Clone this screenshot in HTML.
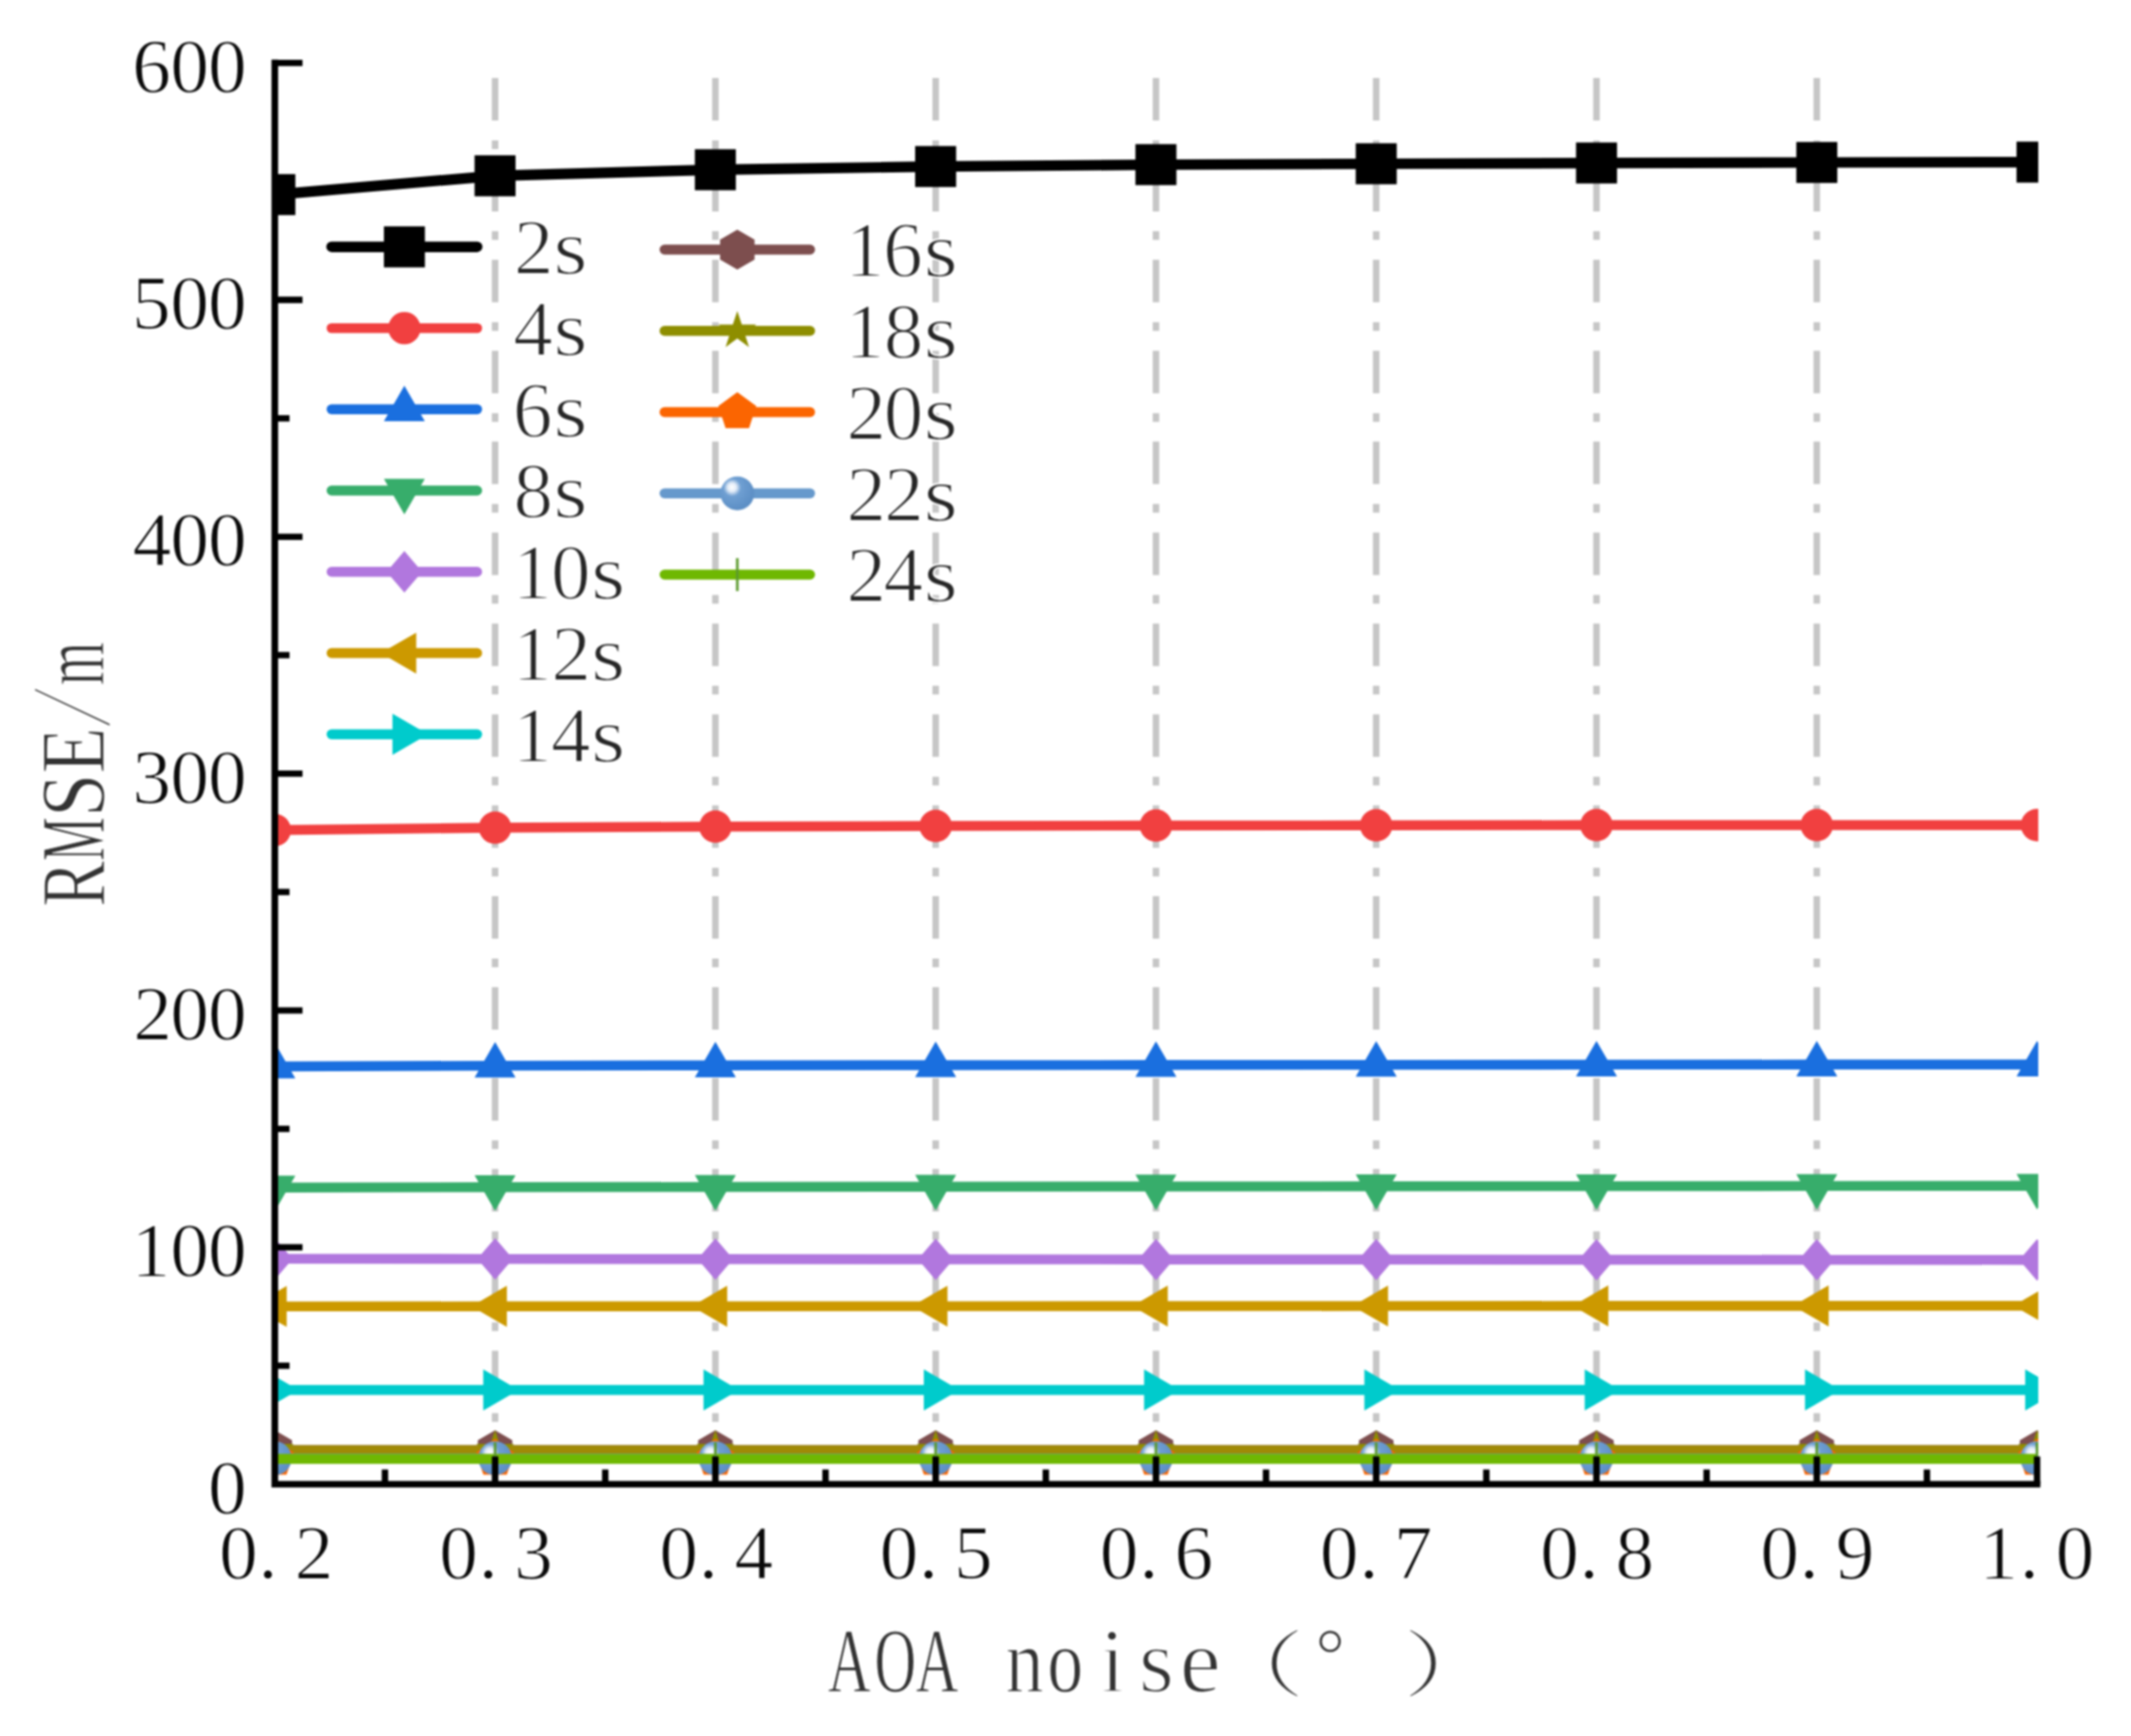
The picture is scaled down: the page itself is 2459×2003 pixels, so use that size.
<!DOCTYPE html>
<html lang="en"><head><meta charset="utf-8"><title>RMSE vs AOA noise</title>
<style>
html,body{margin:0;padding:0;background:#fff;}
body{width:2459px;height:2003px;overflow:hidden;}
svg{display:block;filter:blur(1.3px);}
text{font-family:"Liberation Serif","Noto Serif CJK SC",serif;}
.tk{font-size:89.5px;fill:#0a0a0a;text-anchor:middle;stroke:#fff;stroke-width:1.3px;}
.lg{font-size:91.5px;fill:#262626;text-anchor:middle;stroke:#fff;stroke-width:1.8px;}
.ti{font-size:105.5px;fill:#333;text-anchor:middle;stroke:#fff;stroke-width:1.4px;}
</style></head><body>
<svg width="2459" height="2003" viewBox="0 0 2459 2003">
<defs>
<radialGradient id="sph" cx="0.36" cy="0.34" r="0.62" fx="0.34" fy="0.32">
<stop offset="0" stop-color="#ffffff"/><stop offset="0.2" stop-color="#e4edf8"/><stop offset="0.42" stop-color="#6f9fd2"/><stop offset="1" stop-color="#5e90c6"/>
</radialGradient>
<clipPath id="clip"><rect x="315" y="40" width="2037" height="1700"/></clipPath>
</defs>
<rect width="2459" height="2003" fill="#ffffff"/>

<g stroke="#C6C6C6" stroke-width="7.5" fill="none" stroke-dasharray="49 22.95 10 22.95">
<line x1="571.3" y1="1712.5" x2="571.3" y2="72.7"/>
<line x1="825.5" y1="1712.5" x2="825.5" y2="72.7"/>
<line x1="1079.7" y1="1712.5" x2="1079.7" y2="72.7"/>
<line x1="1333.9" y1="1712.5" x2="1333.9" y2="72.7"/>
<line x1="1588.0" y1="1712.5" x2="1588.0" y2="72.7"/>
<line x1="1842.2" y1="1712.5" x2="1842.2" y2="72.7"/>
<line x1="2096.4" y1="1712.5" x2="2096.4" y2="72.7"/>
</g>
<g clip-path="url(#clip)">
<polyline points="317.1,224.6 571.3,202.8 825.5,195.8 1079.7,192.2 1333.9,190.0 1588.0,189.0 1842.2,188.1 2096.4,187.5 2350.6,187.1" fill="none" stroke="#000000" stroke-width="12.2" stroke-linejoin="round"/>
<rect x="293.5" y="200.9" width="47.3" height="47.3" fill="#000000"/>
<rect x="547.6" y="179.2" width="47.3" height="47.3" fill="#000000"/>
<rect x="801.8" y="172.2" width="47.3" height="47.3" fill="#000000"/>
<rect x="1056.0" y="168.5" width="47.3" height="47.3" fill="#000000"/>
<rect x="1310.2" y="166.3" width="47.3" height="47.3" fill="#000000"/>
<rect x="1564.4" y="165.3" width="47.3" height="47.3" fill="#000000"/>
<rect x="1818.6" y="164.4" width="47.3" height="47.3" fill="#000000"/>
<rect x="2072.8" y="163.8" width="47.3" height="47.3" fill="#000000"/>
<rect x="2326.9" y="163.4" width="47.3" height="47.3" fill="#000000"/>
<polyline points="317.1,957.7 571.3,955.0 825.5,953.8 1079.7,953.0 1333.9,952.5 1588.0,952.3 1842.2,952.0 2096.4,952.0 2350.6,952.0" fill="none" stroke="#F14040" stroke-width="11.4" stroke-linejoin="round"/>
<circle cx="317.1" cy="957.7" r="18.7" fill="#F14040"/>
<circle cx="571.3" cy="955.0" r="18.7" fill="#F14040"/>
<circle cx="825.5" cy="953.8" r="18.7" fill="#F14040"/>
<circle cx="1079.7" cy="953.0" r="18.7" fill="#F14040"/>
<circle cx="1333.9" cy="952.5" r="18.7" fill="#F14040"/>
<circle cx="1588.0" cy="952.3" r="18.7" fill="#F14040"/>
<circle cx="1842.2" cy="952.0" r="18.7" fill="#F14040"/>
<circle cx="2096.4" cy="952.0" r="18.7" fill="#F14040"/>
<circle cx="2350.6" cy="952.0" r="18.7" fill="#F14040"/>
<polyline points="317.1,1230.5 571.3,1229.6 825.5,1229.2 1079.7,1229.0 1333.9,1228.8 1588.0,1228.6 1842.2,1228.4 2096.4,1228.3 2350.6,1228.2" fill="none" stroke="#1A6FDF" stroke-width="11.4" stroke-linejoin="round"/>
<polygon points="317.1,1203.2 293.5,1244.2 340.8,1244.2" fill="#1A6FDF"/>
<polygon points="571.3,1202.3 547.6,1243.3 594.9,1243.3" fill="#1A6FDF"/>
<polygon points="825.5,1201.9 801.8,1242.9 849.1,1242.9" fill="#1A6FDF"/>
<polygon points="1079.7,1201.7 1056.0,1242.7 1103.3,1242.7" fill="#1A6FDF"/>
<polygon points="1333.9,1201.5 1310.2,1242.5 1357.5,1242.5" fill="#1A6FDF"/>
<polygon points="1588.0,1201.3 1564.4,1242.3 1611.7,1242.3" fill="#1A6FDF"/>
<polygon points="1842.2,1201.1 1818.6,1242.1 1865.9,1242.1" fill="#1A6FDF"/>
<polygon points="2096.4,1201.0 2072.8,1242.0 2120.1,1242.0" fill="#1A6FDF"/>
<polygon points="2350.6,1200.9 2326.9,1241.9 2374.2,1241.9" fill="#1A6FDF"/>
<polyline points="317.1,1370.2 571.3,1369.8 825.5,1369.5 1079.7,1369.2 1333.9,1369.0 1588.0,1368.8 1842.2,1368.6 2096.4,1368.4 2350.6,1368.2" fill="none" stroke="#37AD6B" stroke-width="11.4" stroke-linejoin="round"/>
<polygon points="317.1,1397.5 293.5,1356.5 340.8,1356.5" fill="#37AD6B"/>
<polygon points="571.3,1397.1 547.6,1356.1 594.9,1356.1" fill="#37AD6B"/>
<polygon points="825.5,1396.8 801.8,1355.8 849.1,1355.8" fill="#37AD6B"/>
<polygon points="1079.7,1396.5 1056.0,1355.5 1103.3,1355.5" fill="#37AD6B"/>
<polygon points="1333.9,1396.3 1310.2,1355.3 1357.5,1355.3" fill="#37AD6B"/>
<polygon points="1588.0,1396.1 1564.4,1355.1 1611.7,1355.1" fill="#37AD6B"/>
<polygon points="1842.2,1395.9 1818.6,1354.9 1865.9,1354.9" fill="#37AD6B"/>
<polygon points="2096.4,1395.7 2072.8,1354.7 2120.1,1354.7" fill="#37AD6B"/>
<polygon points="2350.6,1395.5 2326.9,1354.5 2374.2,1354.5" fill="#37AD6B"/>
<polyline points="317.1,1452.4 571.3,1452.6 825.5,1452.8 1079.7,1453.0 1333.9,1453.2 1588.0,1453.3 1842.2,1453.5 2096.4,1453.6 2350.6,1453.7" fill="none" stroke="#B177DE" stroke-width="11.4" stroke-linejoin="round"/>
<polygon points="317.1,1428.4 337.6,1452.4 317.1,1476.4 296.6,1452.4" fill="#B177DE"/>
<polygon points="571.3,1428.6 591.8,1452.6 571.3,1476.6 550.8,1452.6" fill="#B177DE"/>
<polygon points="825.5,1428.8 846.0,1452.8 825.5,1476.8 805.0,1452.8" fill="#B177DE"/>
<polygon points="1079.7,1429.0 1100.2,1453.0 1079.7,1477.0 1059.2,1453.0" fill="#B177DE"/>
<polygon points="1333.9,1429.2 1354.4,1453.2 1333.9,1477.2 1313.4,1453.2" fill="#B177DE"/>
<polygon points="1588.0,1429.3 1608.5,1453.3 1588.0,1477.3 1567.5,1453.3" fill="#B177DE"/>
<polygon points="1842.2,1429.5 1862.7,1453.5 1842.2,1477.5 1821.7,1453.5" fill="#B177DE"/>
<polygon points="2096.4,1429.6 2116.9,1453.6 2096.4,1477.6 2075.9,1453.6" fill="#B177DE"/>
<polygon points="2350.6,1429.7 2371.1,1453.7 2350.6,1477.7 2330.1,1453.7" fill="#B177DE"/>
<polyline points="317.1,1507.4 571.3,1507.3 825.5,1507.2 1079.7,1507.1 1333.9,1507.0 1588.0,1506.9 1842.2,1506.8 2096.4,1506.7 2350.6,1506.6" fill="none" stroke="#CC9900" stroke-width="11.4" stroke-linejoin="round"/>
<polygon points="289.8,1507.4 330.8,1483.8 330.8,1531.1" fill="#CC9900"/>
<polygon points="544.0,1507.3 584.9,1483.6 584.9,1531.0" fill="#CC9900"/>
<polygon points="798.2,1507.2 839.1,1483.5 839.1,1530.9" fill="#CC9900"/>
<polygon points="1052.4,1507.1 1093.3,1483.4 1093.3,1530.8" fill="#CC9900"/>
<polygon points="1306.5,1507.0 1347.5,1483.3 1347.5,1530.7" fill="#CC9900"/>
<polygon points="1560.7,1506.9 1601.7,1483.2 1601.7,1530.6" fill="#CC9900"/>
<polygon points="1814.9,1506.8 1855.9,1483.1 1855.9,1530.5" fill="#CC9900"/>
<polygon points="2069.1,1506.7 2110.1,1483.0 2110.1,1530.4" fill="#CC9900"/>
<polygon points="2323.3,1506.6 2364.3,1482.9 2364.3,1530.2" fill="#CC9900"/>
<polyline points="317.1,1603.8 571.3,1603.8 825.5,1603.8 1079.7,1603.8 1333.9,1603.8 1588.0,1603.8 1842.2,1603.8 2096.4,1603.8 2350.6,1603.8" fill="none" stroke="#00CBCC" stroke-width="11.4" stroke-linejoin="round"/>
<polygon points="344.4,1603.8 303.4,1580.1 303.4,1627.5" fill="#00CBCC"/>
<polygon points="598.6,1603.8 557.6,1580.1 557.6,1627.5" fill="#00CBCC"/>
<polygon points="852.8,1603.8 811.8,1580.1 811.8,1627.5" fill="#00CBCC"/>
<polygon points="1107.0,1603.8 1066.0,1580.1 1066.0,1627.5" fill="#00CBCC"/>
<polygon points="1361.2,1603.8 1320.2,1580.1 1320.2,1627.5" fill="#00CBCC"/>
<polygon points="1615.3,1603.8 1574.4,1580.1 1574.4,1627.5" fill="#00CBCC"/>
<polygon points="1869.5,1603.8 1828.6,1580.1 1828.6,1627.5" fill="#00CBCC"/>
<polygon points="2123.7,1603.8 2082.8,1580.1 2082.8,1627.5" fill="#00CBCC"/>
<polygon points="2377.9,1603.8 2336.9,1580.1 2336.9,1627.5" fill="#00CBCC"/>
<polyline points="317.1,1673.3 571.3,1673.3 825.5,1673.3 1079.7,1673.3 1333.9,1673.3 1588.0,1673.3 1842.2,1673.3 2096.4,1673.3 2350.6,1673.3" fill="none" stroke="#7D4E4E" stroke-width="11.4" stroke-linejoin="round"/>
<polygon points="317.1,1650.3 337.0,1661.8 337.0,1684.8 317.1,1696.3 297.2,1684.8 297.2,1661.8" fill="#7D4E4E"/>
<polygon points="571.3,1650.3 591.2,1661.8 591.2,1684.8 571.3,1696.3 551.4,1684.8 551.4,1661.8" fill="#7D4E4E"/>
<polygon points="825.5,1650.3 845.4,1661.8 845.4,1684.8 825.5,1696.3 805.6,1684.8 805.6,1661.8" fill="#7D4E4E"/>
<polygon points="1079.7,1650.3 1099.6,1661.8 1099.6,1684.8 1079.7,1696.3 1059.7,1684.8 1059.7,1661.8" fill="#7D4E4E"/>
<polygon points="1333.9,1650.3 1353.8,1661.8 1353.8,1684.8 1333.9,1696.3 1313.9,1684.8 1313.9,1661.8" fill="#7D4E4E"/>
<polygon points="1588.0,1650.3 1608.0,1661.8 1608.0,1684.8 1588.0,1696.3 1568.1,1684.8 1568.1,1661.8" fill="#7D4E4E"/>
<polygon points="1842.2,1650.3 1862.1,1661.8 1862.1,1684.8 1842.2,1696.3 1822.3,1684.8 1822.3,1661.8" fill="#7D4E4E"/>
<polygon points="2096.4,1650.3 2116.3,1661.8 2116.3,1684.8 2096.4,1696.3 2076.5,1684.8 2076.5,1661.8" fill="#7D4E4E"/>
<polygon points="2350.6,1650.3 2370.5,1661.8 2370.5,1684.8 2350.6,1696.3 2330.7,1684.8 2330.7,1661.8" fill="#7D4E4E"/>
<polyline points="317.1,1673.1 571.3,1673.1 825.5,1673.1 1079.7,1673.1 1333.9,1673.1 1588.0,1673.1 1842.2,1673.1 2096.4,1673.1 2350.6,1673.1" fill="none" stroke="#A08A06" stroke-width="11.4" stroke-linejoin="round"/>
<polygon points="317.1,1650.1 322.3,1666.0 339.0,1666.0 325.5,1675.8 330.6,1691.7 317.1,1681.9 303.6,1691.7 308.7,1675.8 295.2,1666.0 311.9,1666.0" fill="#8E8E00"/>
<polygon points="571.3,1650.1 576.5,1666.0 593.2,1666.0 579.6,1675.8 584.8,1691.7 571.3,1681.9 557.8,1691.7 562.9,1675.8 549.4,1666.0 566.1,1666.0" fill="#8E8E00"/>
<polygon points="825.5,1650.1 830.6,1666.0 847.3,1666.0 833.8,1675.8 839.0,1691.7 825.5,1681.9 812.0,1691.7 817.1,1675.8 803.6,1666.0 820.3,1666.0" fill="#8E8E00"/>
<polygon points="1079.7,1650.1 1084.8,1666.0 1101.5,1666.0 1088.0,1675.8 1093.2,1691.7 1079.7,1681.9 1066.1,1691.7 1071.3,1675.8 1057.8,1666.0 1074.5,1666.0" fill="#8E8E00"/>
<polygon points="1333.9,1650.1 1339.0,1666.0 1355.7,1666.0 1342.2,1675.8 1347.4,1691.7 1333.9,1681.9 1320.3,1691.7 1325.5,1675.8 1312.0,1666.0 1328.7,1666.0" fill="#8E8E00"/>
<polygon points="1588.0,1650.1 1593.2,1666.0 1609.9,1666.0 1596.4,1675.8 1601.6,1691.7 1588.0,1681.9 1574.5,1691.7 1579.7,1675.8 1566.2,1666.0 1582.9,1666.0" fill="#8E8E00"/>
<polygon points="1842.2,1650.1 1847.4,1666.0 1864.1,1666.0 1850.6,1675.8 1855.7,1691.7 1842.2,1681.9 1828.7,1691.7 1833.9,1675.8 1820.4,1666.0 1837.1,1666.0" fill="#8E8E00"/>
<polygon points="2096.4,1650.1 2101.6,1666.0 2118.3,1666.0 2104.8,1675.8 2109.9,1691.7 2096.4,1681.9 2082.9,1691.7 2088.1,1675.8 2074.5,1666.0 2091.2,1666.0" fill="#8E8E00"/>
<polygon points="2350.6,1650.1 2355.8,1666.0 2372.5,1666.0 2359.0,1675.8 2364.1,1691.7 2350.6,1681.9 2337.1,1691.7 2342.2,1675.8 2328.7,1666.0 2345.4,1666.0" fill="#8E8E00"/>
<polyline points="317.1,1683.0 571.3,1683.0 825.5,1683.0 1079.7,1683.0 1333.9,1683.0 1588.0,1683.0 1842.2,1683.0 2096.4,1683.0 2350.6,1683.0" fill="none" stroke="#FB6501" stroke-width="11.4" stroke-linejoin="round"/>
<polygon points="317.1,1660.0 339.0,1675.9 330.6,1701.6 303.6,1701.6 295.2,1675.9" fill="#FB6501"/>
<polygon points="571.3,1660.0 593.2,1675.9 584.8,1701.6 557.8,1701.6 549.4,1675.9" fill="#FB6501"/>
<polygon points="825.5,1660.0 847.3,1675.9 839.0,1701.6 812.0,1701.6 803.6,1675.9" fill="#FB6501"/>
<polygon points="1079.7,1660.0 1101.5,1675.9 1093.2,1701.6 1066.1,1701.6 1057.8,1675.9" fill="#FB6501"/>
<polygon points="1333.9,1660.0 1355.7,1675.9 1347.4,1701.6 1320.3,1701.6 1312.0,1675.9" fill="#FB6501"/>
<polygon points="1588.0,1660.0 1609.9,1675.9 1601.6,1701.6 1574.5,1701.6 1566.2,1675.9" fill="#FB6501"/>
<polygon points="1842.2,1660.0 1864.1,1675.9 1855.7,1701.6 1828.7,1701.6 1820.4,1675.9" fill="#FB6501"/>
<polygon points="2096.4,1660.0 2118.3,1675.9 2109.9,1701.6 2082.9,1701.6 2074.5,1675.9" fill="#FB6501"/>
<polygon points="2350.6,1660.0 2372.5,1675.9 2364.1,1701.6 2337.1,1701.6 2328.7,1675.9" fill="#FB6501"/>
<polyline points="317.1,1682.6 571.3,1682.6 825.5,1682.6 1079.7,1682.6 1333.9,1682.6 1588.0,1682.6 1842.2,1682.6 2096.4,1682.6 2350.6,1682.6" fill="none" stroke="#6699CC" stroke-width="11.4" stroke-linejoin="round"/>
<circle cx="317.1" cy="1682.6" r="19.5" fill="url(#sph)"/>
<circle cx="571.3" cy="1682.6" r="19.5" fill="url(#sph)"/>
<circle cx="825.5" cy="1682.6" r="19.5" fill="url(#sph)"/>
<circle cx="1079.7" cy="1682.6" r="19.5" fill="url(#sph)"/>
<circle cx="1333.9" cy="1682.6" r="19.5" fill="url(#sph)"/>
<circle cx="1588.0" cy="1682.6" r="19.5" fill="url(#sph)"/>
<circle cx="1842.2" cy="1682.6" r="19.5" fill="url(#sph)"/>
<circle cx="2096.4" cy="1682.6" r="19.5" fill="url(#sph)"/>
<circle cx="2350.6" cy="1682.6" r="19.5" fill="url(#sph)"/>
<polyline points="317.1,1683.2 571.3,1683.2 825.5,1683.2 1079.7,1683.2 1333.9,1683.2 1588.0,1683.2 1842.2,1683.2 2096.4,1683.2 2350.6,1683.2" fill="none" stroke="#6FB802" stroke-width="11.4" stroke-linejoin="round"/>
<line x1="317.1" y1="1664.2" x2="317.1" y2="1702.2" stroke="#5C9A2E" stroke-width="3"/>
<line x1="571.3" y1="1664.2" x2="571.3" y2="1702.2" stroke="#5C9A2E" stroke-width="3"/>
<line x1="825.5" y1="1664.2" x2="825.5" y2="1702.2" stroke="#5C9A2E" stroke-width="3"/>
<line x1="1079.7" y1="1664.2" x2="1079.7" y2="1702.2" stroke="#5C9A2E" stroke-width="3"/>
<line x1="1333.9" y1="1664.2" x2="1333.9" y2="1702.2" stroke="#5C9A2E" stroke-width="3"/>
<line x1="1588.0" y1="1664.2" x2="1588.0" y2="1702.2" stroke="#5C9A2E" stroke-width="3"/>
<line x1="1842.2" y1="1664.2" x2="1842.2" y2="1702.2" stroke="#5C9A2E" stroke-width="3"/>
<line x1="2096.4" y1="1664.2" x2="2096.4" y2="1702.2" stroke="#5C9A2E" stroke-width="3"/>
<line x1="2350.6" y1="1664.2" x2="2350.6" y2="1702.2" stroke="#5C9A2E" stroke-width="3"/>
</g>
<g stroke="#000" fill="none">
<path d="M317.1 68.8 V1712.5 H2354.4" stroke-width="7.6" stroke-linejoin="miter"/>
<line x1="317.1" y1="1575.8" x2="334.1" y2="1575.8" stroke-width="7.3"/>
<line x1="317.1" y1="1439.2" x2="349.1" y2="1439.2" stroke-width="7.3"/>
<line x1="317.1" y1="1302.5" x2="334.1" y2="1302.5" stroke-width="7.3"/>
<line x1="317.1" y1="1165.9" x2="349.1" y2="1165.9" stroke-width="7.3"/>
<line x1="317.1" y1="1029.2" x2="334.1" y2="1029.2" stroke-width="7.3"/>
<line x1="317.1" y1="892.6" x2="349.1" y2="892.6" stroke-width="7.3"/>
<line x1="317.1" y1="755.9" x2="334.1" y2="755.9" stroke-width="7.3"/>
<line x1="317.1" y1="619.3" x2="349.1" y2="619.3" stroke-width="7.3"/>
<line x1="317.1" y1="482.7" x2="334.1" y2="482.7" stroke-width="7.3"/>
<line x1="317.1" y1="346.0" x2="349.1" y2="346.0" stroke-width="7.3"/>
<line x1="317.1" y1="209.4" x2="334.1" y2="209.4" stroke-width="7.3"/>
<line x1="317.1" y1="72.7" x2="349.1" y2="72.7" stroke-width="7.3"/>
<line x1="444.2" y1="1712.5" x2="444.2" y2="1695.5" stroke-width="7.4"/>
<line x1="571.3" y1="1712.5" x2="571.3" y2="1680.5" stroke-width="7.4"/>
<line x1="698.4" y1="1712.5" x2="698.4" y2="1695.5" stroke-width="7.4"/>
<line x1="825.5" y1="1712.5" x2="825.5" y2="1680.5" stroke-width="7.4"/>
<line x1="952.6" y1="1712.5" x2="952.6" y2="1695.5" stroke-width="7.4"/>
<line x1="1079.7" y1="1712.5" x2="1079.7" y2="1680.5" stroke-width="7.4"/>
<line x1="1206.8" y1="1712.5" x2="1206.8" y2="1695.5" stroke-width="7.4"/>
<line x1="1333.9" y1="1712.5" x2="1333.9" y2="1680.5" stroke-width="7.4"/>
<line x1="1460.9" y1="1712.5" x2="1460.9" y2="1695.5" stroke-width="7.4"/>
<line x1="1588.0" y1="1712.5" x2="1588.0" y2="1680.5" stroke-width="7.4"/>
<line x1="1715.1" y1="1712.5" x2="1715.1" y2="1695.5" stroke-width="7.4"/>
<line x1="1842.2" y1="1712.5" x2="1842.2" y2="1680.5" stroke-width="7.4"/>
<line x1="1969.3" y1="1712.5" x2="1969.3" y2="1695.5" stroke-width="7.4"/>
<line x1="2096.4" y1="1712.5" x2="2096.4" y2="1680.5" stroke-width="7.4"/>
<line x1="2223.5" y1="1712.5" x2="2223.5" y2="1695.5" stroke-width="7.4"/>
<line x1="2350.6" y1="1712.5" x2="2350.6" y2="1680.5" stroke-width="7.4"/>
</g>
<text class="tk"><tspan x="262.3" y="1745.5">0</tspan></text>
<text class="tk"><tspan x="174.2" y="1472.2">1</tspan><tspan x="218.9" y="1472.2">0</tspan><tspan x="262.3" y="1472.2">0</tspan></text>
<text class="tk"><tspan x="176.0" y="1198.9">2</tspan><tspan x="218.9" y="1198.9">0</tspan><tspan x="262.3" y="1198.9">0</tspan></text>
<text class="tk"><tspan x="175.1" y="925.6">3</tspan><tspan x="218.9" y="925.6">0</tspan><tspan x="262.3" y="925.6">0</tspan></text>
<text class="tk"><tspan x="175.3" y="652.3">4</tspan><tspan x="218.9" y="652.3">0</tspan><tspan x="262.3" y="652.3">0</tspan></text>
<text class="tk"><tspan x="174.6" y="379.0">5</tspan><tspan x="218.9" y="379.0">0</tspan><tspan x="262.3" y="379.0">0</tspan></text>
<text class="tk"><tspan x="174.9" y="105.7">6</tspan><tspan x="218.9" y="105.7">0</tspan><tspan x="262.3" y="105.7">0</tspan></text>
<text class="tk"><tspan x="275.1" y="1820.5">0</tspan><tspan x="309.3" y="1820.5">.</tspan><tspan x="362.4" y="1820.5">2</tspan></text>
<text class="tk"><tspan x="529.2" y="1820.5">0</tspan><tspan x="563.4" y="1820.5">.</tspan><tspan x="615.6" y="1820.5">3</tspan></text>
<text class="tk"><tspan x="783.2" y="1820.5">0</tspan><tspan x="817.4" y="1820.5">.</tspan><tspan x="869.8" y="1820.5">4</tspan></text>
<text class="tk"><tspan x="1037.3" y="1820.5">0</tspan><tspan x="1071.5" y="1820.5">.</tspan><tspan x="1123.2" y="1820.5">5</tspan></text>
<text class="tk"><tspan x="1291.4" y="1820.5">0</tspan><tspan x="1325.6" y="1820.5">.</tspan><tspan x="1377.6" y="1820.5">6</tspan></text>
<text class="tk"><tspan x="1545.4" y="1820.5">0</tspan><tspan x="1579.6" y="1820.5">.</tspan><tspan x="1630.6" y="1820.5">7</tspan></text>
<text class="tk"><tspan x="1799.5" y="1820.5">0</tspan><tspan x="1833.7" y="1820.5">.</tspan><tspan x="1886.3" y="1820.5">8</tspan></text>
<text class="tk"><tspan x="2053.5" y="1820.5">0</tspan><tspan x="2087.7" y="1820.5">.</tspan><tspan x="2140.7" y="1820.5">9</tspan></text>
<text class="tk"><tspan x="2306.3" y="1820.5">1</tspan><tspan x="2341.8" y="1820.5">.</tspan><tspan x="2394.4" y="1820.5">0</tspan></text>
<line x1="382.6" y1="284.8" x2="550.6" y2="284.8" stroke="#000000" stroke-width="12.2" stroke-linecap="round"/>
<rect x="443.0" y="261.2" width="47.3" height="47.3" fill="#000000"/>
<text class="lg"><tspan x="615.8" y="316.0">2</tspan><tspan x="658.4" y="316.0" textLength="39.6" lengthAdjust="spacingAndGlyphs">s</tspan></text>
<line x1="382.6" y1="378.6" x2="550.6" y2="378.6" stroke="#F14040" stroke-width="11.4" stroke-linecap="round"/>
<circle cx="466.6" cy="378.6" r="18.7" fill="#F14040"/>
<text class="lg"><tspan x="615.1" y="409.8">4</tspan><tspan x="658.4" y="409.8" textLength="39.6" lengthAdjust="spacingAndGlyphs">s</tspan></text>
<line x1="382.6" y1="472.3" x2="550.6" y2="472.3" stroke="#1A6FDF" stroke-width="11.4" stroke-linecap="round"/>
<polygon points="466.6,445.0 443.0,486.0 490.2,486.0" fill="#1A6FDF"/>
<text class="lg"><tspan x="614.7" y="503.5">6</tspan><tspan x="658.4" y="503.5" textLength="39.6" lengthAdjust="spacingAndGlyphs">s</tspan></text>
<line x1="382.6" y1="566.0" x2="550.6" y2="566.0" stroke="#37AD6B" stroke-width="11.4" stroke-linecap="round"/>
<polygon points="466.6,593.4 443.0,552.4 490.2,552.4" fill="#37AD6B"/>
<text class="lg"><tspan x="615.3" y="597.2">8</tspan><tspan x="658.4" y="597.2" textLength="39.6" lengthAdjust="spacingAndGlyphs">s</tspan></text>
<line x1="382.6" y1="659.8" x2="550.6" y2="659.8" stroke="#B177DE" stroke-width="11.4" stroke-linecap="round"/>
<polygon points="466.6,635.8 487.1,659.8 466.6,683.8 446.1,659.8" fill="#B177DE"/>
<text class="lg"><tspan x="614.0" y="691.0">1</tspan><tspan x="658.7" y="691.0">0</tspan><tspan x="701.8" y="691.0" textLength="39.6" lengthAdjust="spacingAndGlyphs">s</tspan></text>
<line x1="382.6" y1="753.5" x2="550.6" y2="753.5" stroke="#CC9900" stroke-width="11.4" stroke-linecap="round"/>
<polygon points="439.3,753.5 480.3,729.9 480.3,777.2" fill="#CC9900"/>
<text class="lg"><tspan x="614.0" y="784.8">1</tspan><tspan x="659.2" y="784.8">2</tspan><tspan x="701.8" y="784.8" textLength="39.6" lengthAdjust="spacingAndGlyphs">s</tspan></text>
<line x1="382.6" y1="847.3" x2="550.6" y2="847.3" stroke="#00CBCC" stroke-width="11.4" stroke-linecap="round"/>
<polygon points="493.9,847.3 452.9,823.6 452.9,870.9" fill="#00CBCC"/>
<text class="lg"><tspan x="614.0" y="878.5">1</tspan><tspan x="658.5" y="878.5">4</tspan><tspan x="701.8" y="878.5" textLength="39.6" lengthAdjust="spacingAndGlyphs">s</tspan></text>
<line x1="766.8" y1="288.0" x2="934.8" y2="288.0" stroke="#7D4E4E" stroke-width="11.4" stroke-linecap="round"/>
<polygon points="850.8,265.0 870.7,276.5 870.7,299.5 850.8,311.0 830.9,299.5 830.9,276.5" fill="#7D4E4E"/>
<text class="lg"><tspan x="997.8" y="319.2">1</tspan><tspan x="1041.9" y="319.2">6</tspan><tspan x="1085.6" y="319.2" textLength="39.6" lengthAdjust="spacingAndGlyphs">s</tspan></text>
<line x1="766.8" y1="381.8" x2="934.8" y2="381.8" stroke="#8E8E00" stroke-width="11.4" stroke-linecap="round"/>
<polygon points="850.8,358.8 856.0,374.6 872.7,374.6 859.2,384.5 864.3,400.4 850.8,390.5 837.3,400.4 842.4,384.5 828.9,374.6 845.6,374.6" fill="#8E8E00"/>
<text class="lg"><tspan x="997.8" y="412.9">1</tspan><tspan x="1042.5" y="412.9">8</tspan><tspan x="1085.6" y="412.9" textLength="39.6" lengthAdjust="spacingAndGlyphs">s</tspan></text>
<line x1="766.8" y1="475.5" x2="934.8" y2="475.5" stroke="#FB6501" stroke-width="11.4" stroke-linecap="round"/>
<polygon points="850.8,452.5 872.7,468.4 864.3,494.1 837.3,494.1 828.9,468.4" fill="#FB6501"/>
<text class="lg"><tspan x="999.6" y="506.7">2</tspan><tspan x="1042.5" y="506.7">0</tspan><tspan x="1085.6" y="506.7" textLength="39.6" lengthAdjust="spacingAndGlyphs">s</tspan></text>
<line x1="766.8" y1="569.2" x2="934.8" y2="569.2" stroke="#6699CC" stroke-width="11.4" stroke-linecap="round"/>
<circle cx="850.8" cy="569.2" r="19.5" fill="url(#sph)"/>
<text class="lg"><tspan x="999.6" y="600.5">2</tspan><tspan x="1043.0" y="600.5">2</tspan><tspan x="1085.6" y="600.5" textLength="39.6" lengthAdjust="spacingAndGlyphs">s</tspan></text>
<line x1="766.8" y1="663.0" x2="934.8" y2="663.0" stroke="#6FB802" stroke-width="11.4" stroke-linecap="round"/>
<line x1="850.8" y1="644.0" x2="850.8" y2="682.0" stroke="#5C9A2E" stroke-width="3"/>
<text class="lg"><tspan x="999.6" y="694.2">2</tspan><tspan x="1042.3" y="694.2">4</tspan><tspan x="1085.6" y="694.2" textLength="39.6" lengthAdjust="spacingAndGlyphs">s</tspan></text>
<text class="ti"><tspan x="979.9" y="1951.5" textLength="49.5" lengthAdjust="spacingAndGlyphs">A</tspan><tspan x="1033.2" y="1951.5" textLength="48.2" lengthAdjust="spacingAndGlyphs">O</tspan><tspan x="1081.2" y="1951.5" textLength="49.5" lengthAdjust="spacingAndGlyphs">A</tspan><tspan x="1132.0" y="1951.5"> </tspan><tspan x="1182.3" y="1951.5" textLength="44.2" lengthAdjust="spacingAndGlyphs" stroke-width="1.7">n</tspan><tspan x="1229.2" y="1951.5" textLength="41.4" lengthAdjust="spacingAndGlyphs">o</tspan><tspan x="1283.8" y="1951.5" textLength="30.8" lengthAdjust="spacingAndGlyphs" stroke-width="2.6">i</tspan><tspan x="1334.3" y="1951.5" textLength="40.8" lengthAdjust="spacingAndGlyphs" stroke-width="2.3">s</tspan><tspan x="1385.0" y="1951.5" textLength="47.5" lengthAdjust="spacingAndGlyphs" stroke-width="2.1">e</tspan><tspan x="1449.9" y="1950.2" font-size="83.4" textLength="111.7" lengthAdjust="spacingAndGlyphs">（</tspan><tspan x="1535.0" y="1938.0" font-size="86">°</tspan><tspan x="1674.5" y="1950.2" font-size="83.4" textLength="111.7" lengthAdjust="spacingAndGlyphs">）</tspan></text>
<text class="ti" transform="rotate(-90)"><tspan x="-1019.8" y="120.0" textLength="52.8" lengthAdjust="spacingAndGlyphs">R</tspan><tspan x="-968.1" y="120.0" textLength="50.8" lengthAdjust="spacingAndGlyphs">M</tspan><tspan x="-917.6" y="120.0" textLength="50.2" lengthAdjust="spacingAndGlyphs">S</tspan><tspan x="-865.8" y="120.0" textLength="53.4" lengthAdjust="spacingAndGlyphs">E</tspan><tspan x="-816.1" y="128.2" font-size="136.0" textLength="52.0" lengthAdjust="spacingAndGlyphs" stroke-width="5">/</tspan><tspan x="-765.6" y="120.0" textLength="49.8" lengthAdjust="spacingAndGlyphs">m</tspan></text>
</svg></body></html>
